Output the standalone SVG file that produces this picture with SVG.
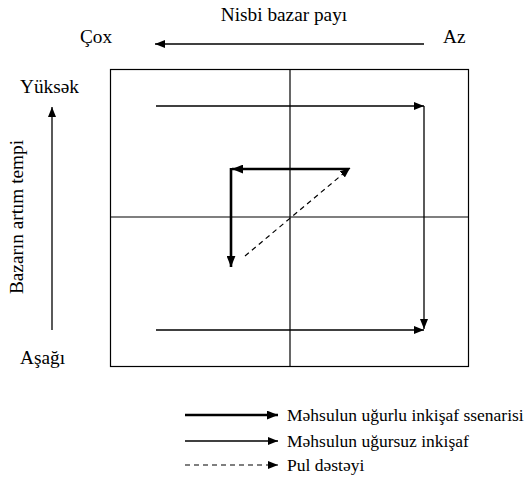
<svg xmlns="http://www.w3.org/2000/svg" width="532" height="482" viewBox="0 0 532 482">
<style>
text{font-family:"Liberation Serif","DejaVu Serif","Times New Roman",serif;fill:#000}
.lbl{font-size:19.3px}
.leg{font-size:17.5px}
.ln{stroke:#000;fill:none}
.thin{stroke-width:1.3}
.bold{stroke-width:2.6}
.dash{stroke-width:1.2;stroke-dasharray:5,4}
</style>
<defs>
<marker id="ah" viewBox="0 0 10 8" refX="10" refY="4" markerWidth="10" markerHeight="8" markerUnits="userSpaceOnUse" orient="auto"><path d="M0,0L10,4L0,8z" fill="#000"/></marker>
<marker id="ahb" viewBox="0 0 10 8" refX="10" refY="4" markerWidth="11" markerHeight="9" markerUnits="userSpaceOnUse" orient="auto"><path d="M0,0L10,4L0,8z" fill="#000"/></marker>
</defs>
<g id="matrix">
<rect x="110.5" y="69.5" width="358" height="297" class="ln" stroke-width="1.2"/>
<line x1="290" y1="69.5" x2="290" y2="366.5" class="ln" stroke-width="1.2"/>
<line x1="110.5" y1="217" x2="468.5" y2="217" class="ln" stroke-width="1.2"/>
</g>
<g id="axes">
<text class="lbl" x="284" y="21" text-anchor="middle">Nisbi bazar payı</text>
<text class="lbl" x="80" y="43">Çox</text>
<text class="lbl" x="443" y="43">Az</text>
<text class="lbl" x="20" y="93">Yüksək</text>
<text class="lbl" x="20" y="364">Aşağı</text>
<text class="lbl" transform="translate(23,217) rotate(-90)" text-anchor="middle">Bazarın artım tempi</text>
</g>
<g id="connectors">
<line x1="424" y1="44" x2="155" y2="44" class="ln thin" marker-end="url(#ah)"/>
<line x1="52" y1="330" x2="52" y2="107" class="ln thin" marker-end="url(#ah)"/>
<line x1="156" y1="106" x2="424" y2="106" class="ln thin" marker-end="url(#ah)"/>
<line x1="424" y1="106" x2="424" y2="329" class="ln thin" marker-end="url(#ah)"/>
<line x1="156" y1="330" x2="424" y2="330" class="ln thin" marker-end="url(#ah)"/>
<line x1="349" y1="169" x2="232" y2="169" class="ln bold" marker-end="url(#ahb)"/>
<line x1="231" y1="168" x2="231" y2="267" class="ln bold" marker-end="url(#ahb)"/>
<line x1="245" y1="256" x2="350" y2="168" class="ln dash" marker-end="url(#ah)"/>
</g>
<g id="legend">
<line x1="185" y1="415" x2="278" y2="415" class="ln bold" marker-end="url(#ahb)"/>
<text class="leg" x="287" y="421">Məhsulun uğurlu inkişaf ssenarisi</text>
<line x1="185" y1="441" x2="278" y2="441" class="ln thin" marker-end="url(#ah)"/>
<text class="leg" x="287" y="447">Məhsulun uğursuz inkişaf</text>
<line x1="185" y1="465" x2="278" y2="465" class="ln dash" marker-end="url(#ah)"/>
<text class="leg" x="287" y="471">Pul dəstəyi</text>
</g>
</svg>
